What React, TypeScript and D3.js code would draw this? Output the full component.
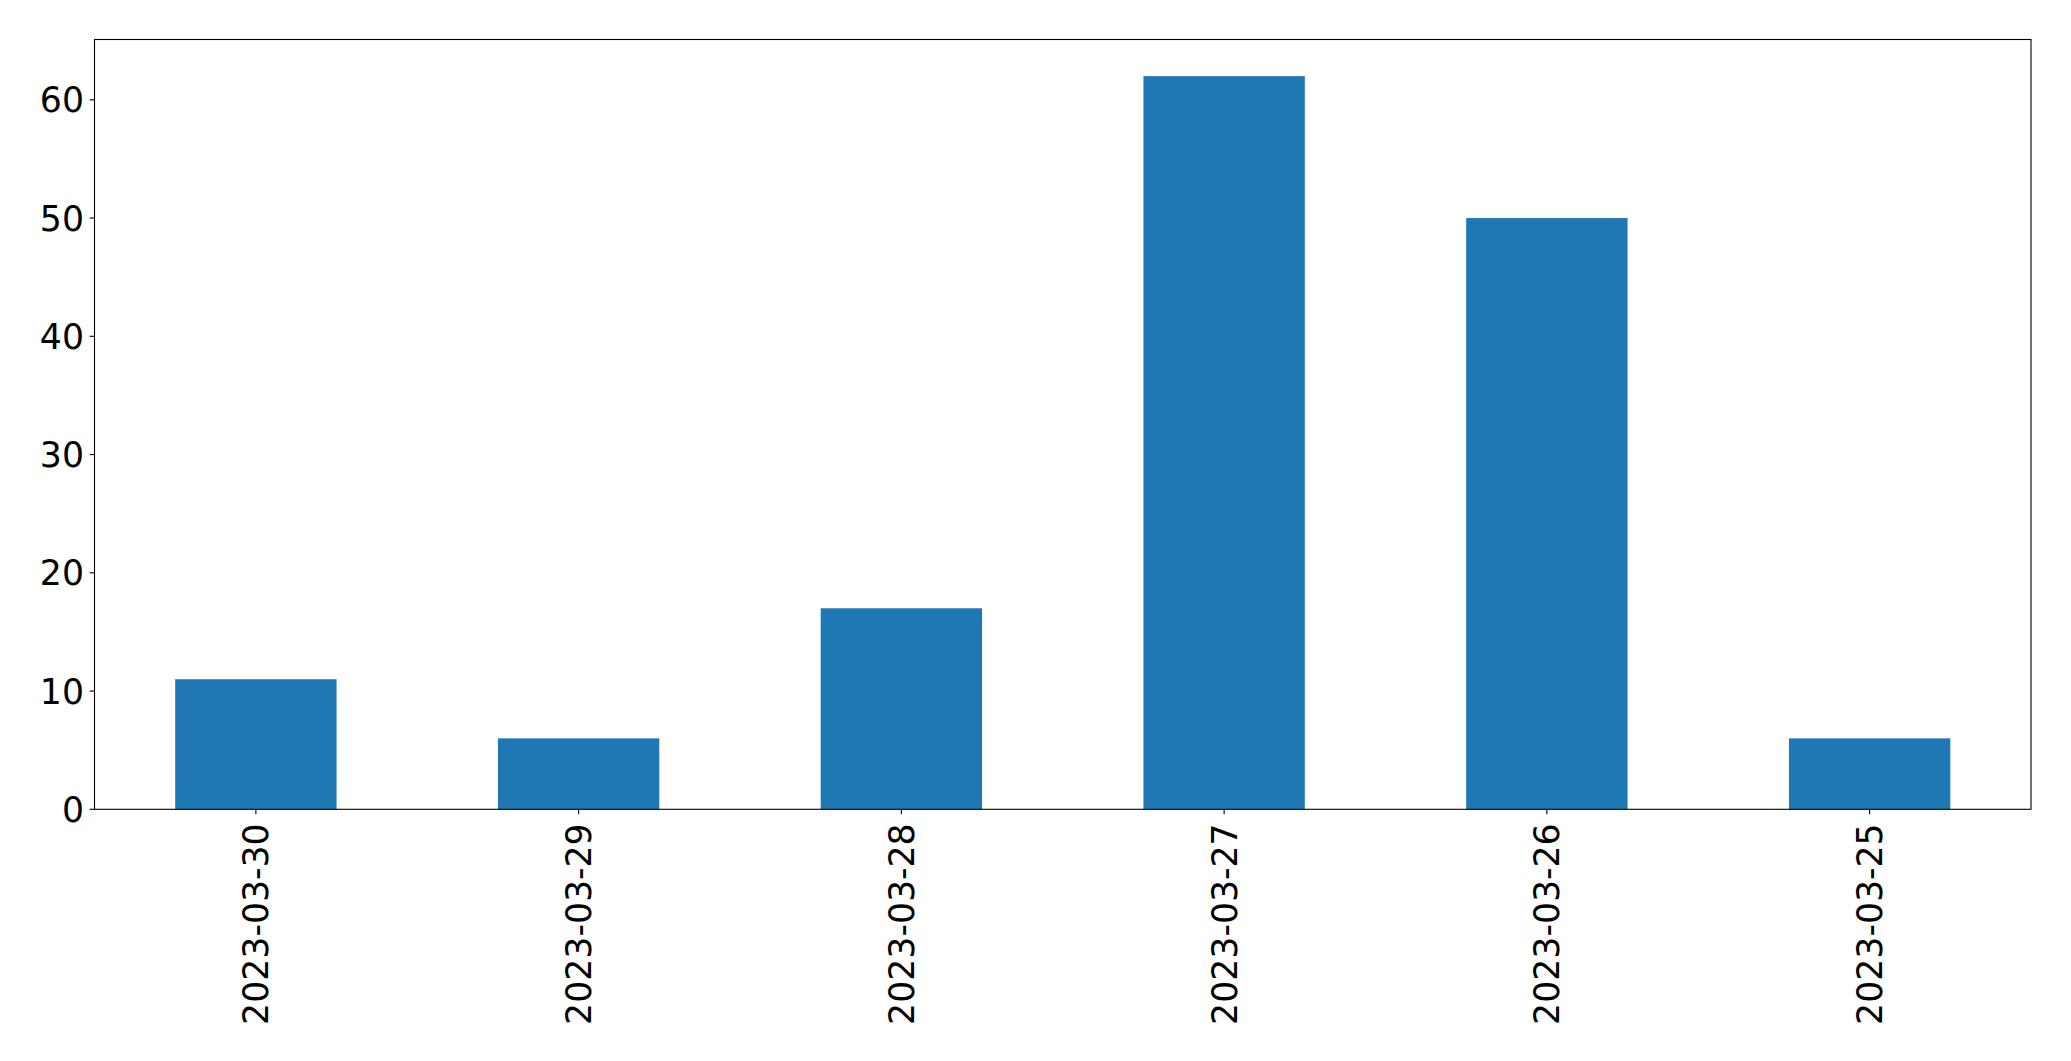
import React from "react";
import * as d3 from "d3";

const categories = ["2023-03-30", "2023-03-29", "2023-03-28", "2023-03-27", "2023-03-26", "2023-03-25"];
const values = [11, 6, 17, 62, 50, 6];
const yTicks = [0, 10, 20, 30, 40, 50, 60];

export default function App() {
  const W = 2071, H = 1061;
  const left = 94.5, right = 2031, top = 39.5, bottom = 809.3;
  const fs = 34.7;
  const x = d3.scaleLinear().domain([-0.5, categories.length - 0.5]).range([left, right]);
  const y = d3.scaleLinear().domain([0, 65.1]).range([bottom, top]);
  const bw = x(0.25) - x(-0.25);
  return (
    <svg width={W} height={H} style={{ position: "absolute", left: 0, top: 0 }}
      fontFamily="'DejaVu Sans', sans-serif">
      <rect x={0} y={0} width={W} height={H} fill="white" />
      {values.map((v, i) => (
        <rect key={i} x={x(i) - bw / 2} y={y(v)} width={bw} height={y(0) - y(v)} fill="#1f77b4" />
      ))}
      <rect x={left} y={top} width={right - left} height={bottom - top} fill="none" stroke="black" strokeWidth={1.1} />
      {yTicks.map((t) => (
        <g key={t}>
          <line x1={left - 4.9} x2={left} y1={y(t)} y2={y(t)} stroke="black" strokeWidth={1.1} />
          <text x={left - 10.5} y={y(t)} dy="0.36em" textAnchor="end" fontSize={fs} fill="black">{t}</text>
        </g>
      ))}
      {categories.map((c, i) => (
        <g key={c}>
          <line x1={x(i)} x2={x(i)} y1={bottom} y2={bottom + 4.9} stroke="black" strokeWidth={1.1} />
          <text transform={`translate(${x(i)},${bottom + 14}) rotate(-90)`} dy="0.36em" textAnchor="end" fontSize={fs} fill="black">{c}</text>
        </g>
      ))}
    </svg>
  );
}
